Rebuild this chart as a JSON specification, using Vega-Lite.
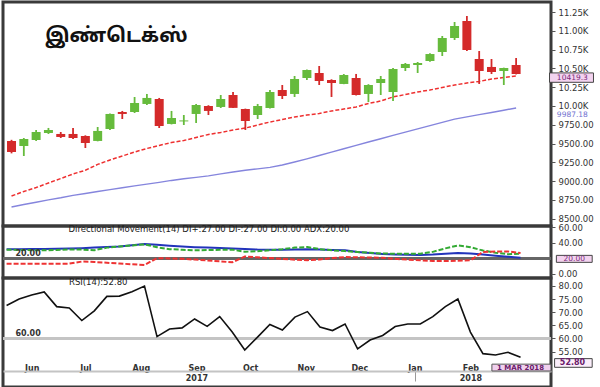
{
  "$schema": "https://vega.github.io/schema/vega-lite/v6.json",
  "padding": 0,
  "background": "white",
  "spacing": 0,
  "bounds": "flush",
  "resolve": {"scale": {"y": "independent"}},
  "config": {
    "view": {"stroke": "#3a3a3a", "strokeWidth": 3},
    "axis": {"labelFont": "DejaVu Sans", "labelFontSize": 8.5, "labelColor": "#333", "tickColor": "#555", "domain": false, "grid": false, "tickSize": 4, "labelPadding": 3, "title": null, "labelOverlap": false}
  },
  "datasets": {
    "w": [
      {"date": "2017-05-18", "open": 9535, "high": 9550, "low": 9370, "close": 9388, "ma1": 8803, "ma2": 8657, "rsi": 72.5, "dip": 31.4, "dim": 13.3, "adx": 31.9},
      {"date": "2017-05-25", "open": 9468, "high": 9574, "low": 9335, "close": 9561, "ma1": 8863, "ma2": 8690, "rsi": 75.0, "dip": 31.0, "dim": 13.3, "adx": 32.0},
      {"date": "2017-06-01", "open": 9548, "high": 9681, "low": 9535, "close": 9654, "ma1": 8915, "ma2": 8720, "rsi": 76.5, "dip": 30.7, "dim": 13.3, "adx": 32.1},
      {"date": "2017-06-08", "open": 9641, "high": 9708, "low": 9628, "close": 9681, "ma1": 8976, "ma2": 8752, "rsi": 77.7, "dip": 30.5, "dim": 13.3, "adx": 32.2},
      {"date": "2017-06-15", "open": 9628, "high": 9654, "low": 9574, "close": 9588, "ma1": 9035, "ma2": 8780, "rsi": 72.1, "dip": 31.0, "dim": 13.3, "adx": 32.5},
      {"date": "2017-06-22", "open": 9628, "high": 9708, "low": 9561, "close": 9574, "ma1": 9096, "ma2": 8812, "rsi": 71.6, "dip": 31.6, "dim": 13.3, "adx": 32.9},
      {"date": "2017-06-29", "open": 9601, "high": 9610, "low": 9441, "close": 9508, "ma1": 9145, "ma2": 8836, "rsi": 66.8, "dip": 31.5, "dim": 16.0, "adx": 33.3},
      {"date": "2017-07-06", "open": 9535, "high": 9721, "low": 9530, "close": 9668, "ma1": 9223, "ma2": 8863, "rsi": 70.5, "dip": 30.6, "dim": 15.5, "adx": 34.0},
      {"date": "2017-07-13", "open": 9694, "high": 9900, "low": 9681, "close": 9894, "ma1": 9282, "ma2": 8887, "rsi": 76.0, "dip": 34.0, "dim": 14.5, "adx": 34.7},
      {"date": "2017-07-20", "open": 9920, "high": 9934, "low": 9827, "close": 9894, "ma1": 9335, "ma2": 8913, "rsi": 76.1, "dip": 35.5, "dim": 13.5, "adx": 35.3},
      {"date": "2017-07-27", "open": 9920, "high": 10120, "low": 9907, "close": 10040, "ma1": 9388, "ma2": 8938, "rsi": 77.8, "dip": 36.8, "dim": 12.5, "adx": 37.0},
      {"date": "2017-08-03", "open": 10027, "high": 10160, "low": 10013, "close": 10107, "ma1": 9435, "ma2": 8961, "rsi": 79.9, "dip": 38.2, "dim": 11.5, "adx": 38.6},
      {"date": "2017-08-10", "open": 10093, "high": 10107, "low": 9707, "close": 9734, "ma1": 9475, "ma2": 8984, "rsi": 60.7, "dip": 34.5, "dim": 20.5, "adx": 37.8},
      {"date": "2017-08-17", "open": 9761, "high": 9934, "low": 9755, "close": 9840, "ma1": 9515, "ma2": 9010, "rsi": 63.6, "dip": 32.0, "dim": 20.0, "adx": 36.5},
      {"date": "2017-08-24", "open": 9795, "high": 9880, "low": 9747, "close": 9808, "ma1": 9541, "ma2": 9032, "rsi": 64.0, "dip": 31.2, "dim": 19.5, "adx": 35.4},
      {"date": "2017-08-31", "open": 9894, "high": 10027, "low": 9774, "close": 10013, "ma1": 9581, "ma2": 9051, "rsi": 67.4, "dip": 30.5, "dim": 18.6, "adx": 34.6},
      {"date": "2017-09-07", "open": 10000, "high": 10010, "low": 9880, "close": 9934, "ma1": 9621, "ma2": 9071, "rsi": 64.6, "dip": 30.8, "dim": 17.5, "adx": 34.0},
      {"date": "2017-09-14", "open": 9987, "high": 10146, "low": 9973, "close": 10093, "ma1": 9648, "ma2": 9098, "rsi": 68.3, "dip": 31.1, "dim": 16.3, "adx": 33.4},
      {"date": "2017-09-21", "open": 10146, "high": 10186, "low": 9973, "close": 9975, "ma1": 9681, "ma2": 9123, "rsi": 62.4, "dip": 31.4, "dim": 15.0, "adx": 33.0},
      {"date": "2017-09-28", "open": 9960, "high": 9965, "low": 9681, "close": 9800, "ma1": 9707, "ma2": 9145, "rsi": 55.6, "dip": 28.6, "dim": 22.5, "adx": 32.3},
      {"date": "2017-10-05", "open": 9880, "high": 10027, "low": 9827, "close": 10000, "ma1": 9747, "ma2": 9164, "rsi": 60.4, "dip": 29.4, "dim": 21.5, "adx": 31.5},
      {"date": "2017-10-12", "open": 9973, "high": 10213, "low": 9965, "close": 10186, "ma1": 9787, "ma2": 9184, "rsi": 65.3, "dip": 30.6, "dim": 20.5, "adx": 31.4},
      {"date": "2017-10-19", "open": 10213, "high": 10279, "low": 10093, "close": 10133, "ma1": 9820, "ma2": 9215, "rsi": 63.2, "dip": 32.0, "dim": 19.5, "adx": 31.4},
      {"date": "2017-10-26", "open": 10160, "high": 10399, "low": 10120, "close": 10359, "ma1": 9854, "ma2": 9255, "rsi": 68.1, "dip": 34.0, "dim": 18.5, "adx": 31.6},
      {"date": "2017-11-02", "open": 10372, "high": 10485, "low": 10346, "close": 10479, "ma1": 9880, "ma2": 9297, "rsi": 70.2, "dip": 34.8, "dim": 17.8, "adx": 31.8},
      {"date": "2017-11-09", "open": 10439, "high": 10532, "low": 10279, "close": 10332, "ma1": 9900, "ma2": 9342, "rsi": 64.3, "dip": 32.0, "dim": 18.8, "adx": 31.5},
      {"date": "2017-11-16", "open": 10346, "high": 10355, "low": 10120, "close": 10306, "ma1": 9934, "ma2": 9386, "rsi": 63.0, "dip": 30.5, "dim": 20.5, "adx": 31.0},
      {"date": "2017-11-23", "open": 10293, "high": 10425, "low": 10290, "close": 10412, "ma1": 9960, "ma2": 9431, "rsi": 65.5, "dip": 29.5, "dim": 21.8, "adx": 30.6},
      {"date": "2017-11-30", "open": 10372, "high": 10426, "low": 10140, "close": 10146, "ma1": 9987, "ma2": 9476, "rsi": 56.0, "dip": 28.3, "dim": 21.5, "adx": 28.5},
      {"date": "2017-12-07", "open": 10160, "high": 10290, "low": 10053, "close": 10279, "ma1": 10033, "ma2": 9521, "rsi": 59.4, "dip": 27.3, "dim": 21.2, "adx": 27.2},
      {"date": "2017-12-14", "open": 10306, "high": 10399, "low": 10146, "close": 10359, "ma1": 10066, "ma2": 9565, "rsi": 61.1, "dip": 26.3, "dim": 21.0, "adx": 25.8},
      {"date": "2017-12-21", "open": 10186, "high": 10505, "low": 10067, "close": 10492, "ma1": 10120, "ma2": 9609, "rsi": 64.5, "dip": 26.2, "dim": 19.5, "adx": 25.2},
      {"date": "2017-12-28", "open": 10505, "high": 10572, "low": 10465, "close": 10559, "ma1": 10153, "ma2": 9652, "rsi": 65.5, "dip": 26.2, "dim": 18.5, "adx": 24.9},
      {"date": "2018-01-04", "open": 10545, "high": 10585, "low": 10439, "close": 10572, "ma1": 10186, "ma2": 9695, "rsi": 65.5, "dip": 26.2, "dim": 17.6, "adx": 24.6},
      {"date": "2018-01-11", "open": 10598, "high": 10700, "low": 10590, "close": 10691, "ma1": 10213, "ma2": 9739, "rsi": 68.3, "dip": 28.5, "dim": 16.8, "adx": 25.2},
      {"date": "2018-01-18", "open": 10718, "high": 10931, "low": 10665, "close": 10904, "ma1": 10246, "ma2": 9782, "rsi": 72.1, "dip": 33.0, "dim": 16.8, "adx": 26.2},
      {"date": "2018-01-25", "open": 10904, "high": 11117, "low": 10878, "close": 11064, "ma1": 10279, "ma2": 9825, "rsi": 75.0, "dip": 36.8, "dim": 17.0, "adx": 27.0},
      {"date": "2018-02-01", "open": 11130, "high": 11197, "low": 10731, "close": 10745, "ma1": 10306, "ma2": 9855, "rsi": 62.4, "dip": 34.5, "dim": 17.6, "adx": 26.5},
      {"date": "2018-02-08", "open": 10625, "high": 10731, "low": 10293, "close": 10465, "ma1": 10326, "ma2": 9885, "rsi": 54.2, "dip": 30.3, "dim": 28.4, "adx": 25.0},
      {"date": "2018-02-15", "open": 10519, "high": 10625, "low": 10425, "close": 10452, "ma1": 10359, "ma2": 9914, "rsi": 53.7, "dip": 27.5, "dim": 29.0, "adx": 23.5},
      {"date": "2018-02-22", "open": 10465, "high": 10510, "low": 10279, "close": 10505, "ma1": 10379, "ma2": 9944, "rsi": 54.7, "dip": 25.5, "dim": 29.0, "adx": 22.2},
      {"date": "2018-03-01", "open": 10545, "high": 10638, "low": 10420, "close": 10425, "ma1": 10399, "ma2": 9974, "rsi": 52.8, "dip": 26.1, "dim": 27.1, "adx": 20.8}
    ]
  },
  "vconcat": [
    {
      "width": 548,
      "height": 224,
      "title": {"text": "இண்டெக்ஸ்", "anchor": "start", "dx": 42, "offset": -44, "fontSize": 20, "fontWeight": "bold", "font": "'Noto Sans Tamil', 'Lohit Tamil', 'Noto Sans', sans-serif", "color": "#111"},
      "data": {"name": "w"},
      "layer": [
        {
          "mark": {"type": "line", "strokeDash": [4, 2], "strokeWidth": 1.5, "color": "#ee3030"},
          "encoding": {
            "x": {"field": "date", "type": "temporal", "scale": {"domain": [{"year": 2017, "month": 5, "date": 16}, {"year": 2018, "month": 3, "date": 18}]}, "axis": null},
            "y": {"field": "ma1", "type": "quantitative", "scale": {"domain": [8404, 11383], "zero": false, "nice": false},
              "axis": {"orient": "right", "labelOverlap": false, "tickCount": 50, "values": [8500, 8750, 9000, 9250, 9500, 9750, 10000, 10250, 10500, 10750, 11000, 11250],
                "labelExpr": "datum.value >= 10000 ? format(datum.value / 1000, '.2f') + 'K' : format(datum.value, '.2f')"}}
          }
        },
        {
          "mark": {"type": "line", "strokeWidth": 1.4, "color": "#8585dd"},
          "encoding": {
            "x": {"field": "date", "type": "temporal"},
            "y": {"field": "ma2", "type": "quantitative"}
          }
        },
        {
          "mark": {"type": "rule", "strokeWidth": 1.8},
          "encoding": {
            "x": {"field": "date", "type": "temporal"},
            "y": {"field": "low", "type": "quantitative"},
            "y2": {"field": "high"},
            "color": {"condition": {"test": "datum.close >= datum.open", "value": "#66bb3c"}, "value": "#d42a2a"}
          }
        },
        {
          "mark": {"type": "bar", "size": 9},
          "encoding": {
            "x": {"field": "date", "type": "temporal"},
            "y": {"field": "open", "type": "quantitative"},
            "y2": {"field": "close"},
            "color": {"condition": {"test": "datum.close >= datum.open", "value": "#66bb3c"}, "value": "#d42a2a"}
          }
        },
        {
          "data": {"values": [{"t": "10419.3"}]},
          "layer": [
            {
              "mark": {"type": "rect", "fill": "#f3d3ef", "stroke": "#444", "strokeWidth": 1},
              "encoding": {
                "x": {"datum": {"year": 2018, "month": 3, "date": 20}, "type": "temporal"},
                "x2": {"datum": {"year": 2018, "month": 4, "date": 14}},
                "y": {"datum": 10440},
                "y2": {"datum": 10315}
              }
            },
            {
              "mark": {"type": "text", "fontSize": 7.5, "font": "DejaVu Sans", "color": "#7a2a7a"},
              "encoding": {
                "x": {"datum": {"year": 2018, "month": 4, "date": 2}, "type": "temporal"},
                "y": {"datum": 10375},
                "text": {"field": "t"}
              }
            }
          ]
        },
        {
          "data": {"values": [{"t": "9987.18"}]},
          "mark": {"type": "text", "fontSize": 7.5, "font": "DejaVu Sans", "color": "#7070d0"},
          "encoding": {
            "x": {"datum": {"year": 2018, "month": 4, "date": 2}, "type": "temporal"},
            "y": {"datum": 9876},
            "text": {"field": "t"}
          }
        }
      ]
    },
    {
      "width": 548,
      "height": 52,
      "title": {"text": "Directional Movement(14) DI+:27.00 DI-:27.00 DI:0.00 ADX:20.00", "anchor": "start", "dx": 67, "offset": -10, "fontSize": 8.5, "fontWeight": "normal", "font": "DejaVu Sans", "color": "#222"},
      "data": {"name": "w"},
      "layer": [
        {
          "mark": {"type": "rule", "color": "#666", "strokeWidth": 3},
          "encoding": {"y": {"datum": 20, "scale": {"domain": [-5.2, 61.9], "zero": false, "nice": false}, "axis": {"orient": "right", "labelOverlap": false, "tickCount": 50, "values": [0, 40, 60], "format": ".2f"}}}
        },
        {
          "mark": {"type": "line", "strokeWidth": 2, "color": "#2233bb"},
          "encoding": {
            "x": {"field": "date", "type": "temporal", "scale": {"domain": [{"year": 2017, "month": 5, "date": 16}, {"year": 2018, "month": 3, "date": 18}]}, "axis": null},
            "y": {"field": "adx", "type": "quantitative"}
          }
        },
        {
          "mark": {"type": "line", "strokeWidth": 2, "strokeDash": [5, 2], "color": "#33aa33"},
          "encoding": {
            "x": {"field": "date", "type": "temporal"},
            "y": {"field": "dip", "type": "quantitative"}
          }
        },
        {
          "mark": {"type": "line", "strokeWidth": 2, "strokeDash": [5, 2], "color": "#ee3333"},
          "encoding": {
            "x": {"field": "date", "type": "temporal"},
            "y": {"field": "dim", "type": "quantitative"}
          }
        },
        {
          "data": {"values": [{"t": "20.00"}]},
          "layer": [
            {
              "mark": {"type": "text", "fontSize": 8, "font": "DejaVu Sans", "fontWeight": "bold", "color": "#333", "baseline": "bottom"},
              "encoding": {
                "x": {"datum": {"year": 2017, "month": 5, "date": 30}, "type": "temporal"},
                "y": {"datum": 20},
                "text": {"field": "t"}
              }
            },
            {
              "mark": {"type": "rect", "fill": "#f3d3ef", "stroke": "#444", "strokeWidth": 1},
              "encoding": {
                "x": {"datum": {"year": 2018, "month": 3, "date": 21}, "type": "temporal"},
                "x2": {"datum": {"year": 2018, "month": 4, "date": 10}},
                "y": {"datum": 24},
                "y2": {"datum": 15}
              }
            },
            {
              "mark": {"type": "text", "fontSize": 7.5, "font": "DejaVu Sans", "color": "#7a2a7a"},
              "encoding": {
                "x": {"datum": {"year": 2018, "month": 3, "date": 31}, "type": "temporal"},
                "y": {"datum": 19.5},
                "text": {"field": "t"}
              }
            }
          ]
        }
      ]
    },
    {
      "width": 548,
      "height": 109,
      "title": {"text": "RSI(14):52.80", "anchor": "start", "dx": 67, "offset": -8, "fontSize": 8.5, "fontWeight": "normal", "font": "DejaVu Sans", "color": "#222"},
      "data": {"name": "w"},
      "layer": [
        {
          "mark": {"type": "rule", "color": "#c4c4c4", "strokeWidth": 2},
          "encoding": {"y": {"datum": 60, "scale": {"domain": [41.5, 83], "zero": false, "nice": false}, "axis": {"orient": "right", "labelOverlap": false, "tickCount": 50, "values": [55, 60, 65, 70, 75, 80], "format": ".2f"}}}
        },
        {
          "mark": {"type": "line", "strokeWidth": 1.6, "color": "#111"},
          "encoding": {
            "x": {"field": "date", "type": "temporal",
              "scale": {"domain": [{"year": 2017, "month": 5, "date": 16}, {"year": 2018, "month": 3, "date": 18}]},
              "axis": {"orient": "bottom", "offset": -16, "domain": true, "domainColor": "#c4c4c4", "domainWidth": 2,
                "ticks": true, "tickSize": 10, "tickWidth": 1,
                "tickColor": {"condition": {"test": "month(datum.value) == 0", "value": "#999"}, "value": "transparent"},
                "tickCount": {"interval": "month", "step": 1},
                "labelPadding": -17, "labelFlush": false, "labelOverlap": false, "labelFontSize": 8, "labelFontWeight": "bold", "labelColor": "#333", "labelLineHeight": 10,
                "labelExpr": "month(datum.value) == 2 ? '' : month(datum.value) == 8 ? [timeFormat(datum.value, '%b'), '2017'] : month(datum.value) == 1 ? [timeFormat(datum.value, '%b'), '2018'] : timeFormat(datum.value, '%b')"}},
            "y": {"field": "rsi", "type": "quantitative"}
          }
        },
        {
          "data": {"values": [{"t": "60.00", "v": "52.80", "d": "1 MAR 2018"}]},
          "layer": [
            {
              "mark": {"type": "text", "fontSize": 8, "font": "DejaVu Sans", "fontWeight": "bold", "color": "#333", "baseline": "bottom"},
              "encoding": {
                "x": {"datum": {"year": 2017, "month": 5, "date": 30}, "type": "temporal"},
                "y": {"datum": 60},
                "text": {"field": "t"}
              }
            },
            {
              "mark": {"type": "rect", "fill": "#fbeefb", "stroke": "#444", "strokeWidth": 1},
              "encoding": {
                "x": {"datum": {"year": 2018, "month": 3, "date": 20}, "type": "temporal"},
                "x2": {"datum": {"year": 2018, "month": 4, "date": 10}},
                "y": {"datum": 52.3},
                "y2": {"datum": 49.0}
              }
            },
            {
              "mark": {"type": "text", "fontSize": 8, "font": "DejaVu Sans", "fontWeight": "bold", "color": "#6a1a6a"},
              "encoding": {
                "x": {"datum": {"year": 2018, "month": 3, "date": 30}, "type": "temporal"},
                "y": {"datum": 50.6},
                "text": {"field": "v"}
              }
            },
            {
              "mark": {"type": "rect", "fill": "#f0d0ee", "stroke": "#555", "strokeWidth": 1},
              "encoding": {
                "x": {"datum": {"year": 2018, "month": 2, "date": 13}, "type": "temporal"},
                "x2": {"datum": {"year": 2018, "month": 3, "date": 18}},
                "y": {"datum": 50.2},
                "y2": {"datum": 47.6}
              }
            },
            {
              "mark": {"type": "text", "fontSize": 7, "font": "DejaVu Sans", "fontWeight": "bold", "color": "#6a1a6a"},
              "encoding": {
                "x": {"datum": {"year": 2018, "month": 3, "date": 1}, "type": "temporal"},
                "y": {"datum": 48.9},
                "text": {"field": "d"}
              }
            }
          ]
        }
      ]
    }
  ]
}
